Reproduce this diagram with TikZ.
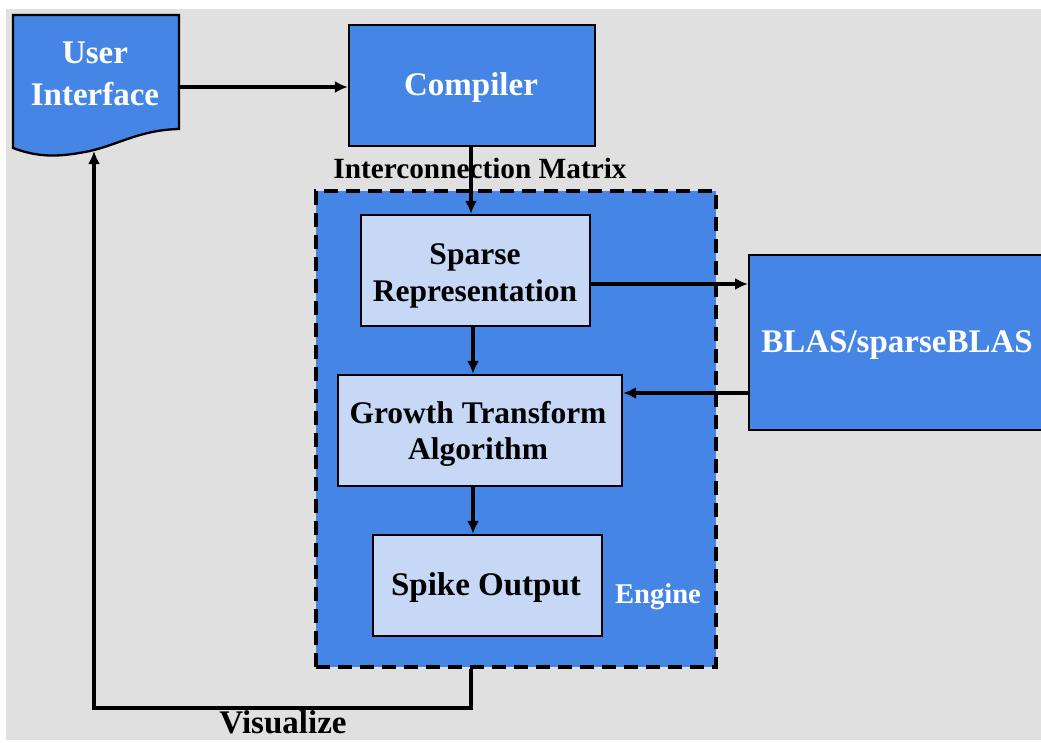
\documentclass[tikz,border=0pt]{standalone}
\usepackage{fontspec}
\setmainfont{Liberation Serif}
\usetikzlibrary{arrows.meta}
\definecolor{bggray}{HTML}{E0E0E0}
\definecolor{blockblue}{HTML}{4585E6}
\definecolor{paleblue}{HTML}{C6D8F6}
\tikzset{
  darkblock/.style={draw=black, line width=2.3pt, fill=blockblue, inner sep=0pt},
  lightblock/.style={draw=black, line width=2.3pt, fill=paleblue, inner sep=0pt},
  whitetext/.style={text=white, font=\bfseries\fontsize{33}{42}\selectfont, align=center, inner sep=0pt},
  blacktext/.style={text=black, font=\bfseries\fontsize{31.5}{36.5}\selectfont, align=center, inner sep=0pt},
  flow/.style={line width=3.2pt, -{Latex[length=13pt,width=12pt]}},
  label/.style={font=\bfseries\fontsize{29.3}{32}\selectfont, inner sep=0pt}
}
\begin{document}
\begin{tikzpicture}[x=1pt,y=-1pt]
  \useasboundingbox (0,0) rectangle (1041,742);
  \clip (0,0) rectangle (1041,742);
  \fill[bggray] (6,9) rectangle (1045,740);

  % engine frame
  \node[draw=black, line width=4pt, dash pattern=on 14pt off 8pt, fill=blockblue,
        minimum width=400pt, minimum height=476pt, inner sep=0pt] (engine) at (516,429) {};
  \node[label, text=white, font=\bfseries\fontsize{28.6}{30}\selectfont] (enginelbl) at (658,597) {Engine};

  % user interface (document shape)
  \fill[blockblue, draw=black, line width=2.3pt]
    (13,15) -- (179,15) -- (179,129)
    .. controls (140,130) and (120,144) .. (90,151)
    .. controls (60,157) and (40,158) .. (13,148) -- cycle;
  \node[minimum width=166pt, minimum height=130pt, inner sep=0pt] (ui) at (96,80) {};
  \node[whitetext] (uitext) at (95,74) {User\\Interface};
  \coordinate (uibottom) at (94,151);

  % blocks
  \node[darkblock, minimum width=246pt, minimum height=121pt] (compiler) at (472,85.5) {};
  \node[whitetext] (compilertext) at (471,88) {Compiler};
  \node[darkblock, minimum width=300pt, minimum height=175pt, anchor=west] (blas) at (748,342.5) {};
  \node[whitetext] (blastext) at (897,345) {BLAS/sparseBLAS};

  \node[lightblock, minimum width=229pt, minimum height=111pt] (sparse) at (475.5,270.5) {};
  \node[blacktext] (sparsetext) at (475,276) {Sparse\\Representation};
  \node[lightblock, minimum width=284pt, minimum height=111pt] (growth) at (480,430.5) {};
  \node[blacktext] (growthtext) at (478,434) {Growth Transform\\Algorithm};
  \node[lightblock, minimum width=229pt, minimum height=101pt] (spike) at (487.5,585.5) {};
  \node[blacktext, font=\bfseries\fontsize{33}{36}\selectfont] (spiketext) at (486,588) {Spike Output};

  \node[label] (matrix) at (480,168) {Interconnection Matrix};
  \node[label, font=\bfseries\fontsize{33}{34}\selectfont] (vis) at (283,722) {Visualize};

  % connectors
  \draw[flow] (ui.east |- 0,87) -- (compiler.west |- 0,87);
  \draw[flow] (compiler.south -| 471,0) -- (sparse.north -| 471,0);
  \draw[flow] (sparse.south -| 473,0) -- (growth.north -| 473,0);
  \draw[flow] (growth.south -| 473,0) -- (spike.north -| 473,0);
  \draw[flow] (sparse.east |- 0,284) -- (blas.west |- 0,284);
  \draw[flow] (blas.west |- 0,393) -- (growth.east |- 0,393);
  \draw[flow] (engine.south -| 471,0) -- (471,708) -- (94,708) -- (uibottom);
\end{tikzpicture}
\end{document}
